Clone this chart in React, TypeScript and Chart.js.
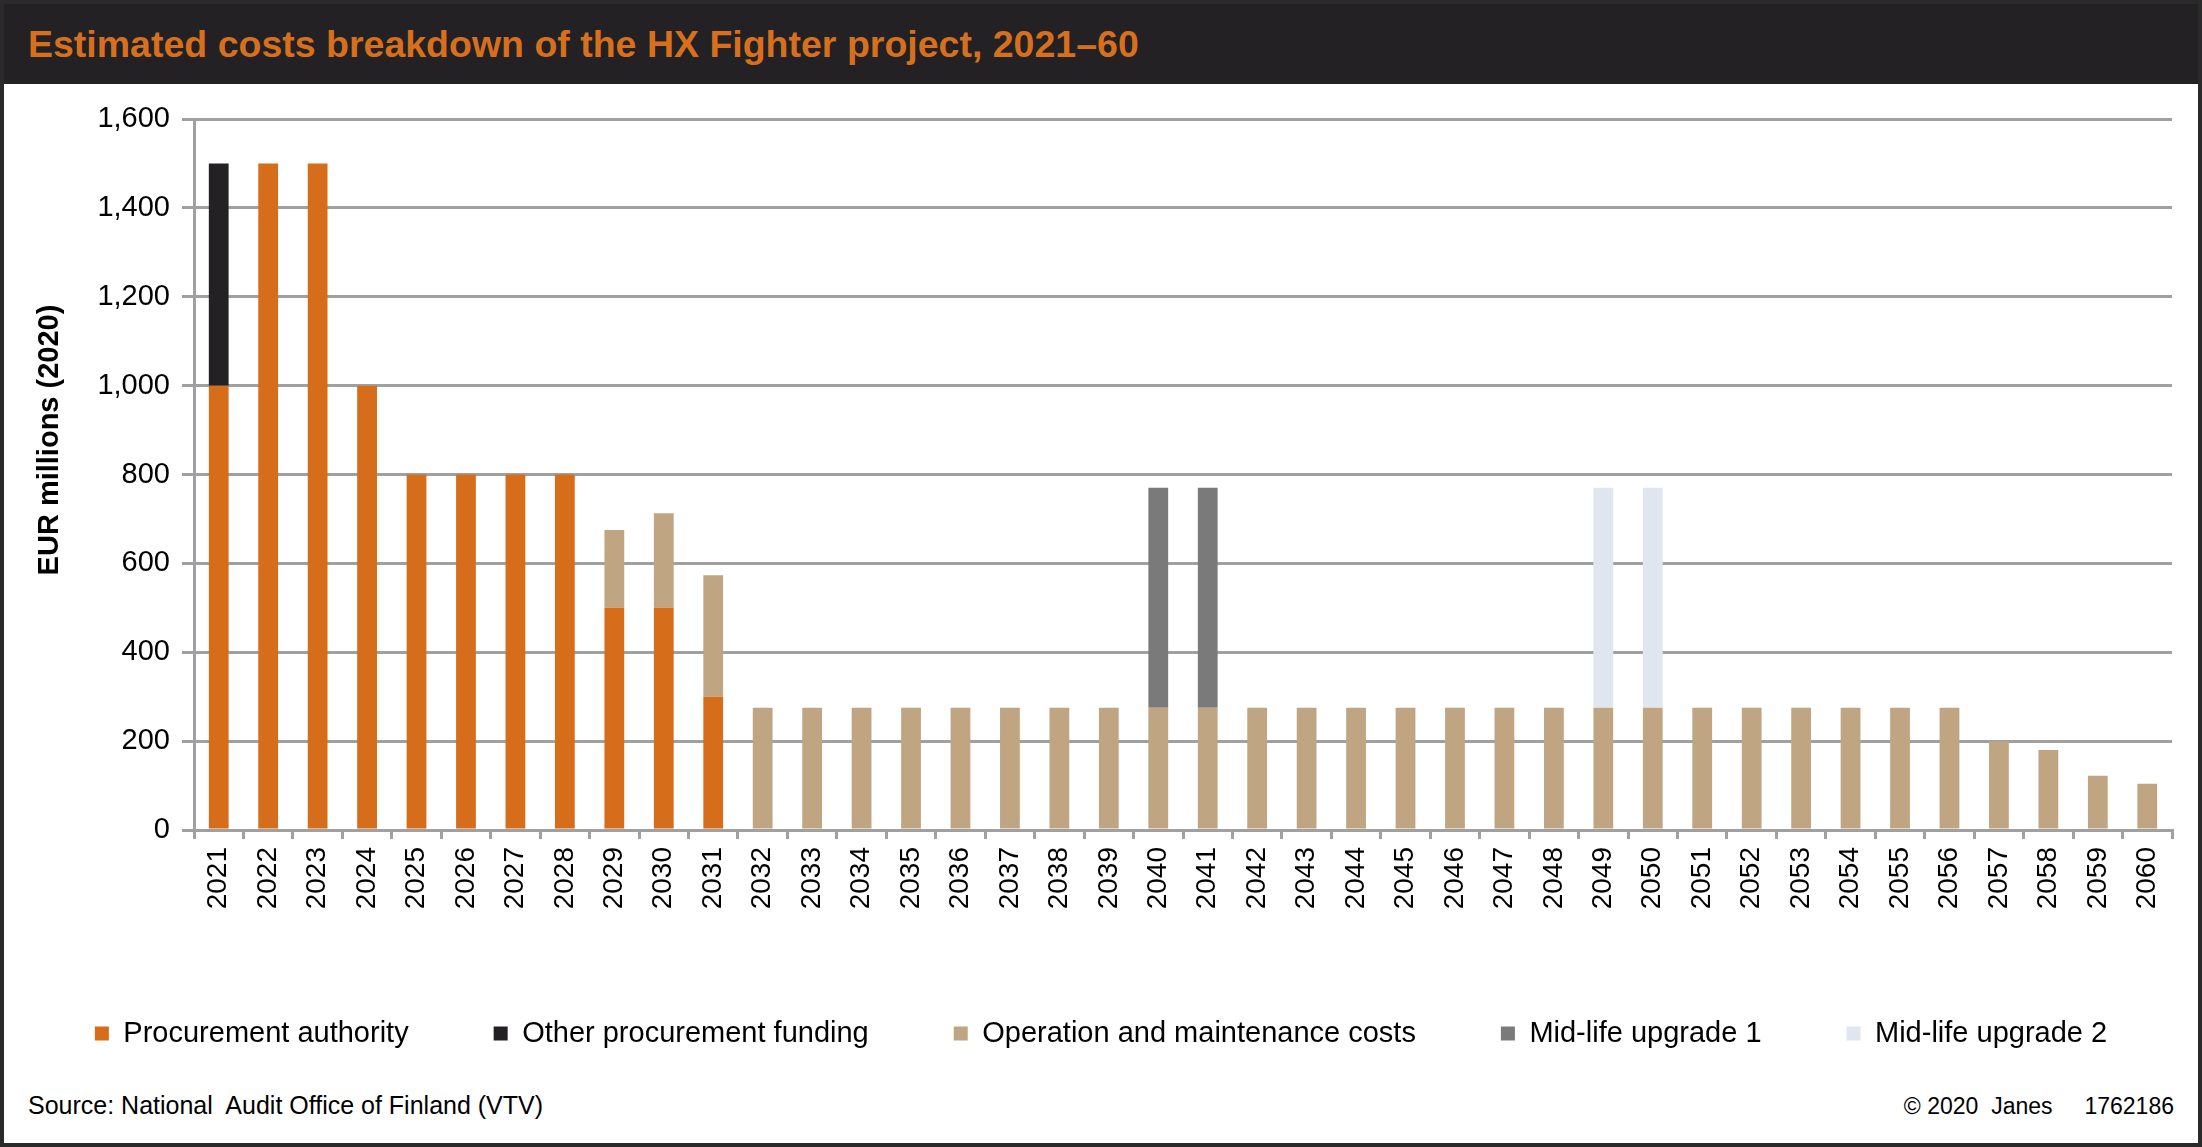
import React, { useEffect, useRef } from "react";
import { Chart, registerables } from "chart.js";

Chart.register(...registerables);

const YEARS = [
  "2021", "2022", "2023", "2024", "2025", "2026", "2027", "2028", "2029", "2030",
  "2031", "2032", "2033", "2034", "2035", "2036", "2037", "2038", "2039", "2040",
  "2041", "2042", "2043", "2044", "2045", "2046", "2047", "2048", "2049", "2050",
  "2051", "2052", "2053", "2054", "2055", "2056", "2057", "2058", "2059", "2060",
];

const PROCUREMENT_AUTHORITY = [
  1000, 1500, 1500, 1000, 800, 800, 800, 800, 500, 500,
  300, null, null, null, null, null, null, null, null, null,
  null, null, null, null, null, null, null, null, null, null,
  null, null, null, null, null, null, null, null, null, null,
];

const OTHER_PROCUREMENT = [
  500, null, null, null, null, null, null, null, null, null,
  null, null, null, null, null, null, null, null, null, null,
  null, null, null, null, null, null, null, null, null, null,
  null, null, null, null, null, null, null, null, null, null,
];

const OPERATION_MAINTENANCE = [
  null, null, null, null, null, null, null, null, 175, 213,
  273, 275, 275, 275, 275, 275, 275, 275, 275, 275,
  275, 275, 275, 275, 275, 275, 275, 275, 275, 275,
  275, 275, 275, 275, 275, 275, 200, 180, 122, 104,
];

const MID_LIFE_1 = [
  null, null, null, null, null, null, null, null, null, null,
  null, null, null, null, null, null, null, null, null, 495,
  495, null, null, null, null, null, null, null, null, null,
  null, null, null, null, null, null, null, null, null, null,
];

const MID_LIFE_2 = [
  null, null, null, null, null, null, null, null, null, null,
  null, null, null, null, null, null, null, null, null, null,
  null, null, null, null, null, null, null, null, 495, 495,
  null, null, null, null, null, null, null, null, null, null,
];

const Y_TICKS_MIN = 0;
const Y_TICKS_MAX = 1600;
const Y_TICKS_STEP = 200;

const Y_TITLE = "EUR millions (2020)";

const FONT = '"Liberation Sans", Arial, Helvetica, sans-serif';
const GRID = "#a0a0a0";

function App() {
  const canvasRef = useRef<HTMLCanvasElement | null>(null);

  useEffect(() => {
    const canvas = canvasRef.current;
    if (!canvas) return;
    Chart.defaults.font.family = FONT;
    const chart = new Chart(canvas, {
      type: "bar",
      data: {
        labels: YEARS,
        datasets: [
          { label: "Procurement authority", data: PROCUREMENT_AUTHORITY, backgroundColor: "#d66d1b" },
          { label: "Other procurement funding", data: OTHER_PROCUREMENT, backgroundColor: "#232124" },
          { label: "Operation and maintenance costs", data: OPERATION_MAINTENANCE, backgroundColor: "#bfa582" },
          { label: "Mid-life upgrade 1", data: MID_LIFE_1, backgroundColor: "#7a7a7a" },
          { label: "Mid-life upgrade 2", data: MID_LIFE_2, backgroundColor: "#dfe6f0" },
        ].map((d) => ({ ...d, borderWidth: 0, barPercentage: 0.4, categoryPercentage: 1 })),
      },
      options: {
        responsive: false,
        animation: false,
        devicePixelRatio: 1,
        layout: { padding: { left: 0, right: 0, top: 35, bottom: 0 } },
        plugins: {
          tooltip: { enabled: false },
          title: { display: false },
          legend: {
            display: true,
            position: "bottom",
            align: "center",
            labels: {
              boxWidth: 14,
              boxHeight: 14,
              padding: 85,
              color: "#000",
              font: { size: 29, family: FONT },
            },
          },
        },
        scales: {
          x: {
            stacked: true,
            offset: true,
            grid: {
              display: true,
              offset: true,
              drawOnChartArea: false,
              drawTicks: true,
              tickLength: 9,
              color: GRID,
              lineWidth: 3,
            },
            border: { display: true, color: GRID, width: 3 },
            ticks: {
              autoSkip: false,
              maxRotation: 90,
              minRotation: 90,
              padding: 8,
              color: "#000",
              font: { size: 28, family: FONT },
            },
            afterFit: (scale: any) => {
              scale.height = 104;
            },
          },
          y: {
            stacked: true,
            position: "left",
            min: Y_TICKS_MIN,
            max: Y_TICKS_MAX,
            grid: {
              display: true,
              drawTicks: true,
              tickLength: 12,
              color: GRID,
              lineWidth: 3,
            },
            border: { display: true, color: GRID, width: 3 },
            ticks: {
              stepSize: Y_TICKS_STEP,
              padding: 12,
              color: "#000",
              font: { size: 29, family: FONT },
              callback: (v: any) => Number(v).toLocaleString("en-US"),
            },
            title: { display: false },
            afterFit: (scale: any) => {
              scale.width = 194;
            },
          },
          yRightSpace: {
            type: "linear",
            position: "right",
            display: true,
            grid: { display: false },
            border: { display: false },
            ticks: { display: false },
            afterFit: (scale: any) => {
              scale.width = 30;
            },
          },
        },
      },
    });
    return () => chart.destroy();
  }, []);

  return (
    <div
      style={{
        position: "relative",
        width: 2202,
        height: 1147,
        background: "#fff",
        overflow: "hidden",
        fontFamily: FONT,
      }}
    >
      <style>{`body{margin:0;}`}</style>
      <div
        style={{
          position: "absolute",
          left: 0,
          top: 0,
          width: 2202,
          height: 84,
          background: "#232124",
        }}
      >
        <div
          style={{
            position: "absolute",
            left: 28,
            top: 2,
            height: 84,
            lineHeight: "84px",
            fontSize: 37.5,
            fontWeight: "bold",
            color: "#d6701e",
            whiteSpace: "nowrap",
          }}
        >
          Estimated costs breakdown of the HX Fighter project, 2021–60
        </div>
      </div>
      <canvas
        ref={canvasRef}
        width={2202}
        height={974}
        style={{ position: "absolute", left: 0, top: 84, width: 2202, height: 974, display: "block" }}
      />
      <div
        style={{
          position: "absolute",
          left: 48,
          top: 440,
          transform: "translate(-50%, -50%) rotate(-90deg)",
          fontSize: 29,
          fontWeight: "bold",
          lineHeight: 1,
          color: "#000",
          whiteSpace: "nowrap",
        }}
      >
        {Y_TITLE}
      </div>
      <div
        style={{
          position: "absolute",
          left: 28,
          top: 1093,
          fontSize: 25,
          lineHeight: "25px",
          color: "#000",
          whiteSpace: "pre",
        }}
      >
        {"Source: National  Audit Office of Finland (VTV)"}
      </div>
      <div
        style={{
          position: "absolute",
          right: 28,
          top: 1094,
          fontSize: 23,
          lineHeight: "25px",
          color: "#000",
          whiteSpace: "pre",
        }}
      >
        {"© 2020  Janes     1762186"}
      </div>
      <div
        style={{
          position: "absolute",
          left: 0,
          top: 0,
          width: 2202,
          height: 1147,
          boxSizing: "border-box",
          border: "4px solid #2a2a2a",
          pointerEvents: "none",
        }}
      />
    </div>
  );
}

export default App;
